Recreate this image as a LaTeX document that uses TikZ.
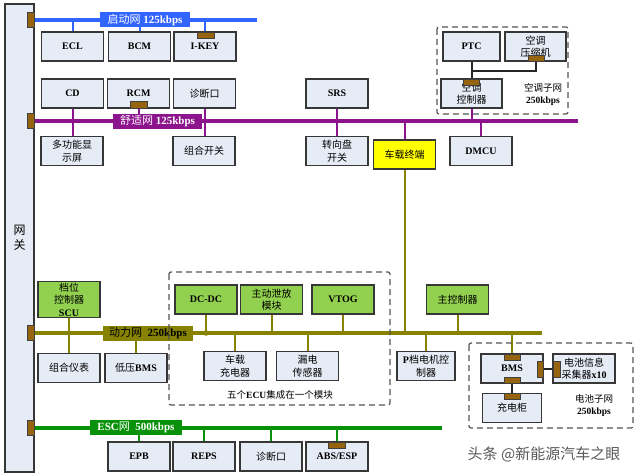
\documentclass[tikz,border=0pt]{standalone}
\usepackage{fontspec}
\setmainfont{Liberation Serif}
\newfontfamily\cjk{Noto Sans CJK SC}
\newcommand\zh[1]{{\cjk #1}}
\newcommand\lb[1]{{\bfseries #1}}
\definecolor{boxc}{RGB}{230,236,246}
\definecolor{bordc}{RGB}{55,55,55}
\definecolor{grnc}{RGB}{146,208,80}
\definecolor{yelc}{RGB}{255,255,0}
\definecolor{portc}{RGB}{150,100,15}
\definecolor{busAc}{RGB}{50,100,255}
\definecolor{busBc}{RGB}{140,20,140}
\definecolor{busCc}{RGB}{135,130,0}
\definecolor{busDc}{RGB}{10,145,10}
\definecolor{dashc}{RGB}{85,85,85}
\begin{document}
\begin{tikzpicture}[x=1pt,y=-1pt,
  box/.style={draw=bordc, line width=1.2pt, fill=boxc, minimum width=62pt, minimum height=29pt, inner sep=1pt, align=center, font=\fontsize{10}{12.5}\selectfont},
  gbox/.style={box, fill=grnc},
  ybox/.style={box, fill=yelc},
  port/.style={draw=black!75, line width=0.4pt, fill=portc},
  busA/.style={draw=busAc, line width=3.5pt},
  busB/.style={draw=busBc, line width=3.5pt},
  busC/.style={draw=busCc, line width=4pt},
  busD/.style={draw=busDc, line width=3.5pt},
  dropA/.style={draw=busAc, line width=2pt},
  dropB/.style={draw=busBc, line width=2pt},
  dropC/.style={draw=busCc, line width=2pt},
  dropD/.style={draw=busDc, line width=2pt},
  blk/.style={draw=black!85, line width=2pt},
  dbox/.style={draw=dashc, line width=1.2pt, dash pattern=on 6pt off 4pt, rounded corners=2pt},
  blabel/.style={inner sep=1pt, minimum height=15pt, font=\fontsize{11}{12}\selectfont},
  note/.style={align=center, font=\fontsize{9.5}{12}\selectfont}
]
\useasboundingbox (0,0) rectangle (640,476);
\fill[white] (0,0) rectangle (640,476);

% gateway
\node[box, minimum width=29pt, minimum height=468pt, font=\fontsize{12}{15}\selectfont] (gw) at (19.5,238) {\zh{网}\\\zh{关}};

% bus coordinates
\coordinate (bA0) at (34,20);  \coordinate (bA1) at (257,20);
\coordinate (bB0) at (34,121); \coordinate (bB1) at (578,121);
\coordinate (bC0) at (34,333); \coordinate (bC1) at (542,333);
\coordinate (bD0) at (34,428); \coordinate (bD1) at (442,428);

% ---------- boxes ----------
% start network
\node[box] (ecl) at (72.5,46.5) {\lb{ECL}};
\node[box] (bcm) at (139.5,46.5) {\lb{BCM}};
\node[box] (ikey) at (205,46.5) {\lb{I-KEY}};
% comfort network
\node[box] (cd) at (72.5,93.5) {\lb{CD}};
\node[box] (rcm) at (138.5,93.5) {\lb{RCM}};
\node[box] (diagA) at (204.5,93.5) {\zh{诊断口}};
\node[box] (mfd) at (72,151) {\zh{多功能显}\\\zh{示屏}};
\node[box] (csw) at (204,151) {\zh{组合开关}};
\node[box] (srs) at (337,93.5) {\lb{SRS}};
\node[box] (steer) at (337,151) {\zh{转向盘}\\\zh{开关}};
\node[ybox, minimum height=29pt] (tbox) at (404.5,154.5) {\zh{车载终端}};
\node[box] (dmcu) at (481,151) {\lb{DMCU}};
% AC subnet
\node[box, minimum width=57pt] (ptc) at (471.5,46.5) {\lb{PTC}};
\node[box, minimum width=61pt] (comp) at (535.5,46.5) {\zh{空调}\\\zh{压缩机}};
\node[box, minimum width=61pt] (acc) at (471.5,93.5) {\zh{空调}\\\zh{控制器}};
% power network
\node[gbox] (scu) at (69,299.5) {\zh{档位}\\\zh{控制器}\\\lb{SCU}};
\node[box] (clu) at (69,368) {\zh{组合仪表}};
\node[box] (lvbms) at (136,368) {\zh{低压}\lb{BMS}};
\node[gbox] (dcdc) at (206,299.5) {\lb{DC-DC}};
\node[gbox] (bleed) at (271.5,299.5) {\zh{主动泄放}\\\zh{模块}};
\node[gbox] (vtog) at (343,299.5) {\lb{VTOG}};
\node[box] (obc) at (235,366) {\zh{车载}\\\zh{充电器}};
\node[box] (leak) at (307.5,366) {\zh{漏电}\\\zh{传感器}};
\node[box, minimum width=58pt] (pmot) at (426,366) {\lb{P}\zh{档电机控}\\\zh{制器}};
\node[gbox] (mcu) at (457.5,299.5) {\zh{主控制器}};
% battery subnet
\node[box] (bms) at (512,368.5) {\lb{BMS}};
\node[box] (bic) at (584,368.5) {\zh{电池信息}\\\zh{采集器}\lb{x10}};
\node[box, minimum width=59pt] (chg) at (512,408) {\zh{充电柜}};
% ESC network
\node[box] (epb) at (139,456.5) {\lb{EPB}};
\node[box] (reps) at (204,456.5) {\lb{REPS}};
\node[box] (diagB) at (271,456.5) {\zh{诊断口}};
\node[box] (abs) at (337,456.5) {\lb{ABS/ESP}};

% ---------- buses and drops ----------
\draw[busA] (bA0) -- (bA1);
\draw[dropA] (ecl.north) -- (ecl.north |- bA0);
\draw[dropA] (bcm.north) -- (bcm.north |- bA0);
\draw[dropA] (ikey.north) -- (ikey.north |- bA0);

\draw[busB] (bB0) -- (bB1);
\draw[dropB] (cd.south) -- (cd.south |- mfd.north);
\draw[dropB] (rcm.south) -- (rcm.south |- bB0);
\draw[dropB] (diagA.south) -- (diagA.south |- csw.north);
\draw[dropB] (srs.south) -- (srs.south |- steer.north);
\draw[dropB] (tbox.north) -- (tbox.north |- bB0);
\draw[dropB] (dmcu.north) -- (dmcu.north |- bB0);
\draw[dropB] (acc.south) -- (acc.south |- bB0);

\draw[busC] (bC0) -- (bC1);
\draw[dropC] (scu.south) -- (scu.south |- clu.north);
\draw[dropC] (lvbms.north) -- (lvbms.north |- bC0);
\draw[dropC] (dcdc.south) -- (dcdc.south |- bC0);
\draw[dropC] (bleed.south) -- (bleed.south |- bC0);
\draw[dropC] (vtog.south) -- (vtog.south |- bC0);
\draw[dropC] (obc.north) -- (obc.north |- bC0);
\draw[dropC] (leak.north) -- (leak.north |- bC0);
\draw[dropC] (pmot.north) -- (pmot.north |- bC0);
\draw[dropC] (mcu.south) -- (mcu.south |- bC0);
\draw[dropC] (bms.north) -- (bms.north |- bC0);
\draw[dropC] (tbox.south) -- (tbox.south |- bC0);
\fill[busCc] (dcdc.south |- bC0) circle (2.8pt);

\draw[busD] (bD0) -- (bD1);
\draw[dropD] (epb.north) -- (epb.north |- bD0);
\draw[dropD] (reps.north) -- (reps.north |- bD0);
\draw[dropD] (diagB.north) -- (diagB.north |- bD0);
\draw[dropD] (abs.north) -- (abs.north |- bD0);

% sub-network black links
\coordinate (acj) at (471.5,71);
\draw[blk] (ptc.south) -- (acc.north);
\draw[blk] (acj) -| (comp.south);
\draw[blk] (bms.east) -- (bic.west);
\draw[blk] (bms.south) -- (chg.north);

% ---------- bus labels ----------
\node[blabel, fill=busAc, text=white, minimum width=90pt] (lA) at (145,20) {\zh{启动网}\ \lb{125kbps}};
\node[blabel, fill=busBc, text=white, minimum width=89pt] (lB) at (157.5,121.5) {\zh{舒适网}\ \lb{125kbps}};
\node[blabel, fill=busCc, text=black, minimum width=90pt] (lC) at (148,333.5) {\zh{动力网}\ \ \lb{250kbps}};
\node[blabel, fill=busDc, text=white, minimum width=92pt] (lD) at (136,427) {\lb{ESC}\zh{网}\ \ \lb{500kbps}};

% ---------- dashed groups ----------
\draw[dbox] (437,27) rectangle (568,114);
\draw[dbox] (169,272) rectangle (390,405);
\draw[dbox] (469,343) rectangle (633,428);
\node[note] (acnote) at (543,94) {\zh{空调子网}\\\lb{250kbps}};
\node[note] (batnote) at (594,406) {\zh{电池子网}\\\lb{250kbps}};
\node[note] (ecunote) at (280,395) {\zh{五个}\lb{ECU}\zh{集成在一个模块}};

% ---------- ports ----------
\foreach \yy in {20,121,333,428} {
  \draw[port] (27,\yy-7.5) rectangle (34,\yy+7.5);
}
\draw[port] (197,32) rectangle (214,38);      % I-KEY
\draw[port] (130,101.5) rectangle (147,108);  % RCM
\draw[port] (528,55) rectangle (544,61);      % compressor
\draw[port] (463,79) rectangle (479,85.5);    % AC controller
\draw[port] (504,354) rectangle (520,360);    % BMS top
\draw[port] (504,377) rectangle (520,383);    % BMS bottom
\draw[port] (537,361) rectangle (543,377);    % BMS right
\draw[port] (553,361) rectangle (560,377);    % BIC left
\draw[port] (504,393.5) rectangle (520,399.5);% charger top
\draw[port] (328,442) rectangle (345,448);    % ABS

% watermark
\node[text=black!65, font=\cjk\fontsize{15}{15}\selectfont] (wm) at (544,454) {头条 @新能源汽车之眼};
\end{tikzpicture}
\end{document}
